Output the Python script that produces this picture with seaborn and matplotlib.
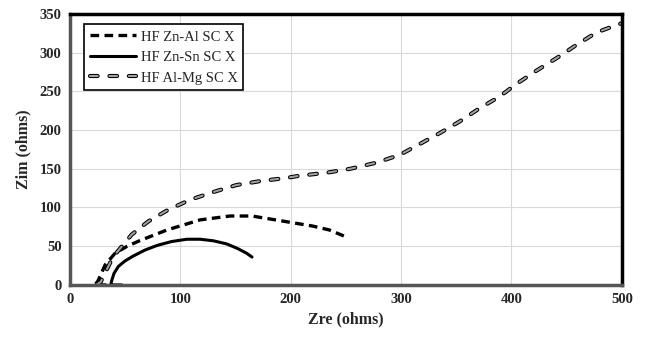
import numpy as np
import pandas as pd
import matplotlib
matplotlib.use("Agg")
import matplotlib.pyplot as plt
from matplotlib.legend_handler import HandlerTuple
import seaborn as sns

# Nyquist data
znal_x = [33, 22, 25, 27, 32, 41, 52, 63, 88, 118, 145, 165, 199, 220, 235, 252]
znal_y = [0, 0, 4, 10, 26, 41, 50, 57, 71, 84, 89, 89, 81, 76, 71, 61]

znsn_x = [47, 37, 38, 40, 44, 50, 57, 68, 79, 92, 106, 118, 130, 142, 152, 160, 165]
znsn_y = [0, 0, 6, 15, 24, 31, 37, 45, 51, 56, 59, 59, 57, 53, 47, 41, 36]

almg_x = [24, 28, 39, 56, 71, 89, 109, 130, 151, 172, 195, 208, 233, 254,
          278, 299, 317, 335, 353, 371, 389, 405, 423, 441, 459, 477, 496, 500]
almg_y = [0, 4, 36, 65, 82, 97, 110, 120, 129, 134, 138, 141, 145, 150,
          158, 168, 182, 196, 211, 228, 243, 260, 277, 293, 310, 326, 336, 338]

labels = ["HF Zn-Al SC X", "HF Zn-Sn SC X", "HF Al-Mg SC X"]
x_ticks = [0, 100, 200, 300, 400, 500]
y_ticks = [0, 50, 100, 150, 200, 250, 300, 350]

sns.set_style("white")
plt.rcParams['font.family'] = ['Liberation Serif', 'DejaVu Serif']

fig = plt.figure(figsize=(6.47, 3.4), dpi=100)
ax = fig.add_axes([0.108, 0.162, 0.853, 0.797])

ax.grid(True, color='#d9d9d9', linewidth=0.8)
ax.set_axisbelow(True)

df1 = pd.DataFrame({'x': znal_x, 'y': znal_y})
df2 = pd.DataFrame({'x': znsn_x, 'y': znsn_y})
df3 = pd.DataFrame({'x': almg_x, 'y': almg_y})

sns.lineplot(data=df1, x='x', y='y', sort=False, ax=ax, color='black',
             linewidth=2.4, linestyle=(0, (2.6, 1.6)))
sns.lineplot(data=df2, x='x', y='y', sort=False, ax=ax, color='black',
             linewidth=2.2)
# hollow grey dashes: black dashed line under a thinner grey one, same pattern in points
dash_on, dash_off = 5.5, 8.5
sns.lineplot(data=df3, x='x', y='y', sort=False, ax=ax, color='black',
             linewidth=3.0, linestyle=(0, (dash_on / 3.0, dash_off / 3.0)),
             dash_capstyle='round')
sns.lineplot(data=df3, x='x', y='y', sort=False, ax=ax, color='#a0a0a0',
             linewidth=1.5, linestyle=(0, (dash_on / 1.5, dash_off / 1.5)),
             dash_capstyle='round')
lines = ax.get_lines()

ax.set_xlim(0, 500)
ax.set_ylim(0, 350)
ax.set_xticks(x_ticks)
ax.set_yticks(y_ticks)
for t in ax.get_xticklabels() + ax.get_yticklabels():
    t.set_fontweight('bold')
    t.set_fontsize(10.5)
ax.tick_params(length=0, pad=6)

ax.set_xlabel('Zre (ohms)', fontsize=11.5, fontweight='bold', labelpad=4)
ax.set_ylabel('Zim (ohms)', fontsize=11.5, fontweight='bold', labelpad=6)

# Excel-like frame: dark top/right, grey left/bottom
ax.spines['top'].set_color('black')
ax.spines['right'].set_color('black')
ax.spines['left'].set_color('#555555')
ax.spines['bottom'].set_color('#555555')
for s in ax.spines.values():
    s.set_linewidth(2.5)

leg = ax.legend(handles=[lines[0], lines[1], (lines[2], lines[3])], labels=labels,
                handler_map={tuple: HandlerTuple(ndivide=1, pad=0)},
                loc='upper left', bbox_to_anchor=(0.012, 0.988), fontsize=10.5,
                frameon=True, fancybox=False, edgecolor='black', framealpha=1,
                handlelength=3.2, handletextpad=0.3, borderpad=0.4, labelspacing=0.5)
leg.get_frame().set_linewidth(1.2)

fig.savefig('out.png', dpi=100)
